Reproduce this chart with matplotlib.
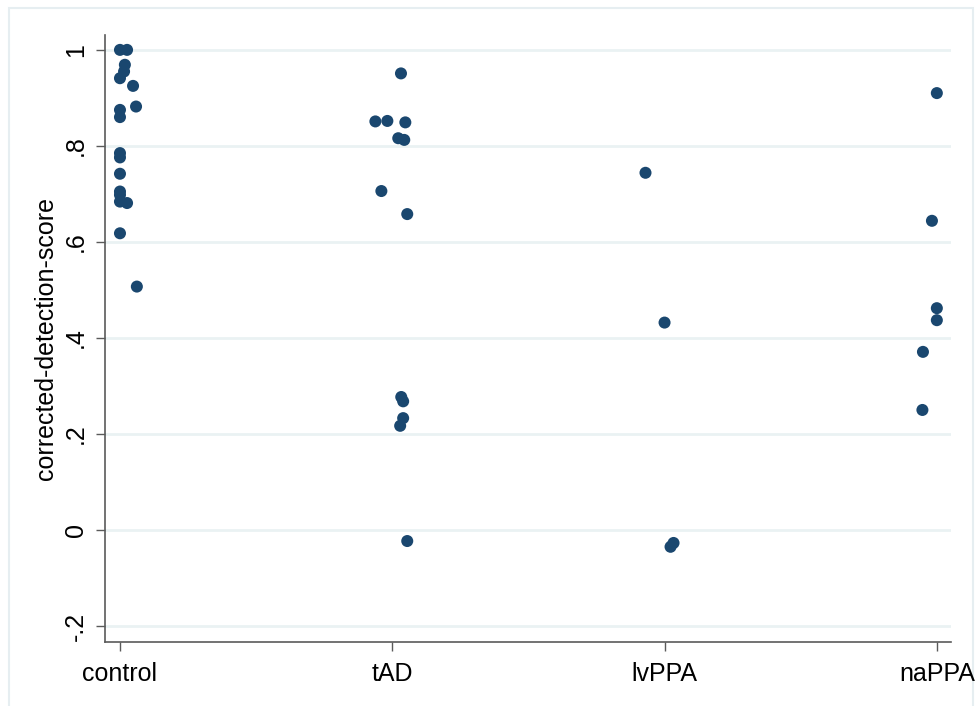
import matplotlib
matplotlib.use("Agg")
import matplotlib.pyplot as plt
from matplotlib.patches import Rectangle

plt.rcParams['font.family'] = ['Liberation Sans', 'DejaVu Sans']

# groups on the x axis
groups = ["control", "tAD", "lvPPA", "naPPA"]

# corrected-detection-score per subject
control_scores = [1.0, 1.0, 0.969, 0.955, 0.941, 0.925, 0.882, 0.875, 0.860,
                  0.785, 0.776, 0.742, 0.705, 0.698, 0.684, 0.681, 0.618, 0.507]
tad_scores = [0.951, 0.851, 0.852, 0.849, 0.816, 0.8125, 0.706, 0.658,
              0.277, 0.268, 0.233, 0.217, -0.023]
lvppa_scores = [0.744, 0.432, -0.035, -0.027]
nappa_scores = [0.910, 0.644, 0.462, 0.437, 0.371, 0.250]

# horizontal jitter of each point (category units), as seen in the picture
control_jitter = [0.0, 0.026, 0.018, 0.015, 0.0, 0.048, 0.059, 0.0, 0.0,
                  0.0, 0.0, 0.0, 0.0, 0.0, 0.0, 0.026, 0.0, 0.062]
tad_jitter = [0.032, -0.062, -0.018, 0.048, 0.022, 0.044, -0.040, 0.055,
              0.033, 0.040, 0.040, 0.029, 0.055]
lvppa_jitter = [-0.070, 0.0, 0.022, 0.033]
nappa_jitter = [0.0, -0.018, 0.0, 0.0, -0.051, -0.053]

yticks = [-0.2, 0, 0.2, 0.4, 0.6, 0.8, 1]
ytick_labels = ["-.2", "0", ".2", ".4", ".6", ".8", "1"]

navy = "#1a476f"
grid_col = "#eaf2f3"
axis_col = "#5a5a5a"

fig = plt.figure(figsize=(9.76, 7.06), dpi=100)
fig.patch.set_facecolor("white")
# Stata-like outer graph region border, kept behind the axes
fig.patches.append(Rectangle((9 / 976, -0.01), 964 / 976, 1 - 8 / 706 + 0.01,
                             transform=fig.transFigure, fill=False,
                             edgecolor="#e6eef1", linewidth=1.5, zorder=-1))

ax = fig.add_axes([105 / 976, 1 - 642 / 706, 846 / 976, 607 / 706])
ax.patch.set_alpha(0)

all_scores = [control_scores, tad_scores, lvppa_scores, nappa_scores]
all_jitter = [control_jitter, tad_jitter, lvppa_jitter, nappa_jitter]
for i, (scores, jit) in enumerate(zip(all_scores, all_jitter)):
    xs = [i + j for j in jit]
    ax.scatter(xs, scores, s=75, color=navy, edgecolors="none", zorder=3)

ax.set_xlim(-0.055, 3.052)
ax.set_ylim(-0.2333, 1.031)

ax.set_yticks(yticks)
ax.set_yticklabels(ytick_labels, rotation=90, va="center")
ax.set_xticks(range(len(groups)))
ax.set_xticklabels(groups)

for y in yticks:
    ax.axhline(y, color=grid_col, linewidth=2, zorder=1)

ax.tick_params(axis="both", colors=axis_col, labelcolor="black",
               labelsize=18, length=6.5, width=1)
ax.tick_params(axis="y", pad=6)
ax.tick_params(axis="x", pad=8)

for side in ["top", "right"]:
    ax.spines[side].set_visible(False)
for side in ["left", "bottom"]:
    ax.spines[side].set_color(axis_col)
    ax.spines[side].set_linewidth(1.2)

ax.set_ylabel("corrected-detection-score", fontsize=18, labelpad=4)

fig.savefig("out.png", dpi=100)
